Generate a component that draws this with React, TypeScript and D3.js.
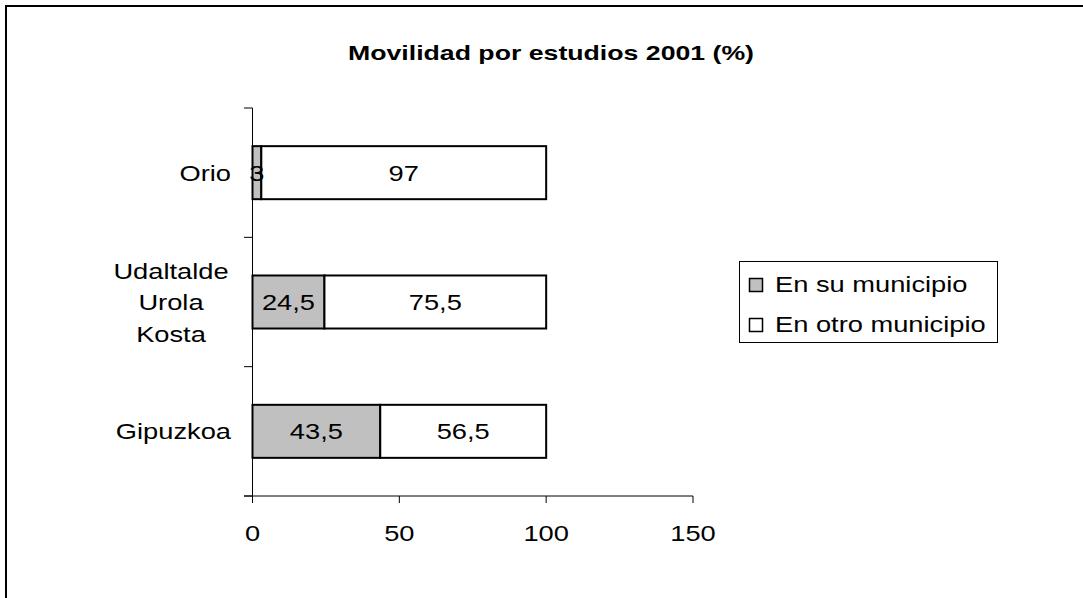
import React from "react";
import * as d3 from "d3";

const categories: string[][] = [["Orio"], ["Udaltalde", "Urola", "Kosta"], ["Gipuzkoa"]];
const seriesNames = ["En su municipio", "En otro municipio"];
const enSuMunicipio = [3, 24.5, 43.5];
const enOtroMunicipio = [97, 75.5, 56.5];
const xTicks = [0, 50, 100, 150];
const title = "Movilidad por estudios 2001 (%)";

const W = 1083;
const H = 598;
const FONT = "'Liberation Sans', Arial, sans-serif";
const colors = ["#c0c0c0", "#ffffff"];
const FS = 22;
const SX = 1.24;

const fmt = (v: number) => String(v).replace(".", ",");

function T(props: { x: number; y: number; anchor?: string; bold?: boolean; sx?: number; fs?: number; children: React.ReactNode }) {
  const { x, y, anchor = "start", bold = false, sx = SX, fs = FS, children } = props;
  return (
    <g transform={`translate(${x},${y}) scale(${sx},1)`}>
      <text x={0} y={0} textAnchor={anchor} fontSize={fs} fontWeight={bold ? "bold" : "normal"} fill="#000">{children}</text>
    </g>
  );
}

export default function App() {
  const x = d3.scaleLinear().domain([0, 150]).range([252.5, 693]);
  const keys = categories.map((c) => c.join(" "));
  const y = d3.scaleBand<string>().domain(keys).range([108, 496]).paddingInner(0.59).paddingOuter(0.295);
  const rows = keys.map((k, i) => ({ key: k, lines: categories[i], a: enSuMunicipio[i], b: enOtroMunicipio[i] }));
  const boundaries = d3.range(keys.length + 1).map((i) => 108 + i * (388 / keys.length));

  return (
    <svg width={W} height={H} style={{ position: "fixed", left: 0, top: 0, background: "#fff" }} fontFamily={FONT}>
      <rect x={0} y={0} width={W} height={H} fill="#fff" />
      <line x1={6} y1={6} x2={W + 5} y2={6} stroke="#000" strokeWidth={2} />
      <line x1={6} y1={5} x2={6} y2={H + 5} stroke="#000" strokeWidth={2} />

      <T x={551} y={60} anchor="middle" bold sx={1.27} fs={21}>{title}</T>

      {/* bars */}
      {rows.map((r) => {
        const y0 = y(r.key)!;
        const bw = y.bandwidth();
        const segs = [
          { v0: 0, v1: r.a, val: r.a, c: colors[0] },
          { v0: r.a, v1: r.a + r.b, val: r.b, c: colors[1] },
        ];
        return (
          <g key={r.key}>
            {segs.map((s, j) => (
              <rect key={j} x={x(s.v0)} y={y0} width={x(s.v1) - x(s.v0)} height={bw} fill={s.c} stroke="#000" strokeWidth={2} />
            ))}
            {segs.map((s, j) => (
              <T key={"t" + j} x={(x(s.v0) + x(s.v1)) / 2} y={y0 + bw / 2 + 8} anchor="middle">{fmt(s.val)}</T>
            ))}
          </g>
        );
      })}

      {/* y axis */}
      <line x1={252.5} y1={108} x2={252.5} y2={496} stroke="#000" strokeWidth={1} />
      {boundaries.map((b, i) => (
        <line key={i} x1={244} y1={b} x2={252.5} y2={b} stroke="#000" strokeWidth={1} />
      ))}
      {rows.map((r) => {
        const cy = y(r.key)! + y.bandwidth() / 2;
        if (r.lines.length === 1) {
          return <T key={r.key} x={231} y={cy + 8} anchor="end">{r.lines[0]}</T>;
        }
        const lh = 31.5;
        return (
          <g key={r.key}>
            {r.lines.map((l, i) => (
              <T key={i} x={171} y={cy + 8 + (i - (r.lines.length - 1) / 2) * lh} anchor="middle">{l}</T>
            ))}
          </g>
        );
      })}

      {/* x axis */}
      <line x1={244} y1={496} x2={693} y2={496} stroke="#000" strokeWidth={1} />
      {xTicks.map((t) => (
        <g key={t}>
          <line x1={x(t)} y1={496} x2={x(t)} y2={503} stroke="#000" strokeWidth={1} />
          <T x={x(t)} y={541} anchor="middle">{t}</T>
        </g>
      ))}

      {/* legend */}
      <rect x={739.5} y={261.5} width={258} height={81} fill="#fff" stroke="#000" strokeWidth={1} />
      {seriesNames.map((n, i) => (
        <g key={n}>
          <rect x={749.5} y={278.5 + i * 40} width={13} height={13} fill={colors[i]} stroke="#000" strokeWidth={1.5} />
          <T x={775} y={292 + i * 40}>{n}</T>
        </g>
      ))}
    </svg>
  );
}
